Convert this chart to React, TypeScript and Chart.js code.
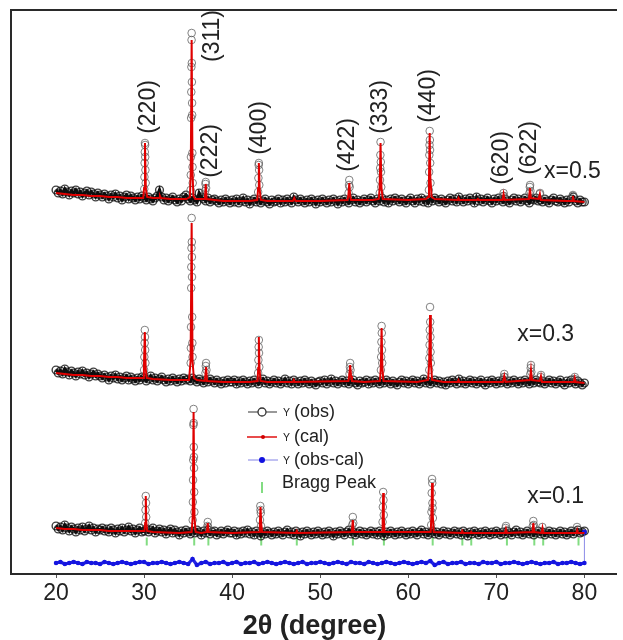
import { useEffect, useRef } from 'react';
import { Chart, registerables } from 'chart.js';

Chart.register(...registerables);

const FONT = "'Liberation Sans', Arial, Helvetica, sans-serif";

// ---------- axis ----------
const X_MIN = 15;
const X_MAX = 83.7;
const Y_MIN = 0;
const Y_MAX = 563;
const X_TICKS = [20, 30, 40, 50, 60, 70, 80];

// ---------- observed background scans (2θ = 20 + i*0.25) ----------
const BG_START = 20;
const BG_STEP = 0.25;

const bgObs05 = [
  383, 380, 382, 379, 384, 381, 378, 382, 380, 383, 379, 381, 377, 380, 382, 378, 381, 379, 376, 380,
  378, 376, 379, 377, 374, 378, 376, 379, 375, 377, 373, 376, 378, 374, 377, 375, 373, 376, 374, 377,
  375, 373, 376, 374, 372, 375, 377, 383, 376, 373, 375, 372, 374, 376, 373, 371, 374, 372, 376, 378,
  374, 372, 375, 373, 371, 380, 376, 374, 372, 375, 371, 373, 374, 372, 370, 373, 371, 374, 372, 370,
  373, 371, 374, 370, 372, 375, 371, 373, 369, 372, 374, 371, 373, 370, 372, 374, 371, 369, 373, 371,
  372, 374, 370, 373, 371, 374, 372, 370, 376, 373, 371, 374, 372, 370, 373, 371, 374, 372, 369, 373,
  371, 374, 372, 370, 373, 371, 374, 372, 369, 373, 371, 374, 372, 370, 373, 375, 371, 373, 370, 372,
  374, 371, 373, 375, 372, 370, 374, 372, 375, 371, 373, 370, 374, 372, 375, 373, 371, 374, 372, 370,
  373, 375, 372, 370, 374, 372, 375, 371, 373, 370, 374, 372, 375, 373, 371, 374, 372, 370, 373, 375,
  372, 374, 371, 376, 373, 371, 374, 372, 375, 373, 370, 376, 372, 374, 371, 373, 375, 372, 370, 374,
  372, 375, 373, 371, 374, 372, 370, 373, 375, 372, 374, 371, 373, 375, 372, 370, 374, 373, 375, 372,
  373, 371, 374, 372, 370, 373, 375, 372, 371, 374, 372, 370, 373, 371, 374, 376, 372, 370, 373, 371,
  371,
];

const bgObs03 = [
  203, 200, 202, 199, 204, 201, 198, 202, 200, 197, 201, 199, 202, 198, 200, 196, 199, 201, 197, 199,
  197, 195, 198, 196, 193, 197, 195, 198, 194, 196, 193, 195, 197, 193, 196, 194, 192, 195, 193, 196,
  195, 192, 194, 197, 193, 195, 192, 194, 196, 193, 191, 194, 192, 195, 193, 191, 194, 192, 195, 193,
  194, 192, 195, 193, 191, 194, 192, 190, 193, 191, 194, 192, 190, 193, 191, 189, 192, 190, 193, 191,
  191, 193, 189, 192, 190, 193, 191, 189, 192, 190, 193, 191, 189, 192, 194, 190, 192, 189, 191, 193,
  190, 192, 189, 191, 194, 190, 192, 189, 193, 191, 189, 192, 190, 193, 191, 189, 192, 190, 188, 191,
  192, 190, 193, 189, 191, 194, 190, 192, 189, 191, 193, 190, 192, 189, 191, 193, 190, 188, 192, 190,
  191, 193, 189, 192, 190, 193, 191, 189, 192, 190, 193, 191, 189, 192, 190, 188, 191, 193, 190, 192,
  189, 191, 193, 190, 192, 189, 191, 194, 190, 192, 189, 191, 193, 190, 192, 189, 191, 188, 192, 190,
  193, 191, 189, 194, 190, 192, 189, 191, 193, 190, 192, 189, 191, 193, 190, 188, 192, 190, 193, 191,
  189, 192, 190, 193, 191, 189, 192, 190, 193, 191, 189, 192, 190, 193, 191, 189, 192, 190, 193, 191,
  190, 192, 189, 191, 193, 190, 192, 189, 191, 193, 190, 188, 192, 190, 193, 191, 189, 192, 190, 188,
  190,
];

const bgObs01 = [
  47, 44, 46, 43, 48, 45, 42, 46, 44, 41, 45, 43, 46, 42, 44, 47, 43, 45, 41, 44,
  43, 45, 42, 44, 41, 45, 43, 40, 44, 42, 45, 41, 43, 46, 42, 44, 40, 43, 45, 41,
  42, 44, 41, 43, 45, 40, 42, 44, 41, 43, 39, 42, 44, 40, 43, 41, 38, 42, 40, 43,
  41, 39, 42, 40, 43, 41, 38, 42, 40, 43, 39, 41, 42, 38, 40, 42, 39, 41, 43, 40,
  40, 42, 38, 41, 39, 42, 40, 43, 39, 41, 38, 42, 40, 37, 41, 39, 42, 40, 38, 41,
  39, 42, 40, 38, 41, 43, 39, 41, 38, 42, 40, 37, 41, 39, 42, 40, 38, 41, 39, 42,
  40, 38, 41, 39, 42, 40, 37, 41, 39, 42, 40, 38, 41, 43, 39, 41, 38, 40, 42, 39,
  41, 38, 40, 42, 39, 41, 38, 42, 40, 37, 41, 39, 42, 40, 38, 41, 39, 42, 40, 38,
  41, 39, 42, 40, 38, 41, 43, 39, 41, 38, 40, 42, 39, 41, 38, 40, 42, 39, 41, 38,
  40, 42, 39, 41, 38, 42, 40, 37, 41, 39, 42, 40, 38, 41, 39, 42, 40, 38, 41, 39,
  42, 40, 38, 41, 39, 42, 40, 38, 41, 43, 39, 41, 38, 40, 42, 39, 41, 38, 40, 42,
  39, 41, 38, 40, 42, 39, 41, 38, 40, 42, 39, 41, 38, 40, 42, 39, 41, 43, 40, 41,
  42,
];

// ---------- observed peak points [2θ, intensity] ----------
const peakObs05: [number, number][] = [
  [30.02, 384], [30.04, 396], [30.06, 410], [30.08, 421], [30.1, 430], [30.12, 428], [30.13, 416], [30.15, 403], [30.18, 390],
  [35.28, 383], [35.3, 398], [35.32, 416], [35.34, 455], [35.36, 481], [35.37, 506], [35.39, 533], [35.4, 540],
  [35.42, 510], [35.43, 491], [35.45, 470], [35.46, 458], [35.48, 420], [35.5, 406], [35.52, 390],
  [36.93, 382], [36.97, 389], [37.0, 391], [37.04, 385],
  [42.95, 381], [42.98, 395], [43.01, 408], [43.03, 410], [43.06, 403], [43.08, 388],
  [53.22, 380], [53.27, 388], [53.3, 393], [53.34, 386],
  [56.76, 380], [56.79, 393], [56.81, 405], [56.83, 418], [56.85, 431], [56.88, 411], [56.9, 401], [56.93, 386],
  [62.34, 383], [62.37, 401], [62.39, 418], [62.41, 428], [62.43, 442], [62.45, 433], [62.47, 423], [62.49, 410], [62.52, 390],
  [70.78, 377], [70.82, 380], [70.86, 377],
  [73.76, 380], [73.8, 386], [73.83, 388], [73.87, 382],
  [74.92, 379], [74.96, 380],
  [78.66, 377], [78.7, 378],
];

const peakObs03: [number, number][] = [
  [30.0, 203], [30.03, 216], [30.06, 230], [30.08, 243], [30.1, 236], [30.12, 223], [30.15, 210],
  [35.29, 210], [35.31, 225], [35.33, 246], [35.35, 285], [35.36, 306], [35.38, 325], [35.4, 355],
  [35.42, 331], [35.43, 316], [35.44, 296], [35.46, 256], [35.48, 230], [35.5, 216],
  [36.97, 200], [37.01, 207], [37.04, 210], [37.08, 203],
  [42.95, 200], [42.98, 213], [43.01, 226], [43.03, 233], [43.05, 220], [43.08, 206],
  [53.33, 199], [53.37, 206], [53.4, 210], [53.44, 203],
  [56.89, 203], [56.92, 216], [56.95, 231], [56.97, 247], [56.99, 240], [57.01, 223], [57.04, 210],
  [62.38, 203], [62.4, 215], [62.42, 228], [62.44, 243], [62.47, 266], [62.49, 251], [62.51, 236], [62.53, 221], [62.56, 210],
  [70.86, 196], [70.9, 199], [70.94, 196],
  [73.86, 199], [73.9, 205], [73.93, 208], [73.97, 201],
  [75.03, 196], [75.07, 198],
  [78.87, 194], [78.91, 196],
];

const peakObs01: [number, number][] = [
  [30.13, 50], [30.16, 63], [30.19, 77], [30.22, 70], [30.24, 56],
  [35.52, 53], [35.54, 71], [35.56, 93], [35.58, 113], [35.6, 148], [35.62, 164],
  [35.63, 150], [35.64, 126], [35.66, 116], [35.67, 105], [35.69, 81], [35.71, 61],
  [37.19, 47], [37.23, 51], [37.27, 46],
  [43.16, 53], [43.2, 67], [43.22, 63], [43.25, 60], [43.28, 47],
  [53.64, 48], [53.7, 56], [53.75, 50],
  [57.08, 51], [57.11, 66], [57.15, 81], [57.18, 73], [57.21, 58],
  [62.6, 48], [62.63, 61], [62.66, 80], [62.7, 94], [62.72, 90], [62.74, 70], [62.76, 65], [62.79, 55],
  [71.05, 45], [71.09, 47],
  [74.14, 47], [74.2, 52], [74.25, 48],
  [75.22, 46],
  [79.16, 46],
];

// ---------- calculated profiles [2θ, intensity] ----------
const cal05: [number, number][] = [
  [20, 380], [21, 379], [22, 378], [23, 378], [24, 377], [25, 377], [26, 376], [27, 376], [28, 375], [29, 375],
  [29.9, 375], [30.0, 385], [30.1, 430], [30.2, 384], [30.35, 376], [31, 375], [31.7, 375], [31.8, 377], [31.9, 375],
  [33, 374], [34, 374], [34.8, 374], [35.2, 376], [35.3, 400], [35.4, 533], [35.5, 400], [35.6, 377], [35.8, 374],
  [36.9, 374], [37.0, 389], [37.1, 374], [38, 373], [39, 372], [42, 372], [42.85, 373], [42.95, 385], [43.03, 410],
  [43.12, 384], [43.25, 373], [44, 372], [46.9, 372], [47.05, 375], [47.2, 372], [50, 372], [53.1, 373], [53.2, 378],
  [53.3, 390], [53.4, 377], [53.5, 373], [56, 373], [56.65, 374], [56.75, 385], [56.85, 430], [56.95, 386], [57.1, 374],
  [60, 373], [62, 374], [62.25, 376], [62.35, 395], [62.43, 440], [62.5, 396], [62.65, 376], [63, 374], [65.6, 373],
  [65.7, 375], [65.8, 373], [67.8, 373], [67.9, 374], [68, 373], [70.7, 373], [70.82, 379], [70.95, 373], [73.7, 374],
  [73.82, 385], [73.92, 375], [74.8, 374], [74.94, 379], [75.05, 373], [78, 372], [78.6, 372], [78.69, 377], [78.8, 372],
  [80, 371],
];

const cal03: [number, number][] = [
  [20, 200], [21, 199], [22, 198], [23, 198], [24, 197], [25, 197], [26, 196], [27, 196], [28, 195], [29, 195],
  [29.9, 195], [29.98, 206], [30.08, 241], [30.18, 205], [30.3, 195], [31, 194], [33, 193], [35.1, 193], [35.28, 212],
  [35.4, 350], [35.5, 212], [35.65, 195], [36, 193], [36.9, 192], [37.04, 206], [37.15, 192], [39, 191], [42, 191],
  [42.88, 192], [42.96, 205], [43.03, 236], [43.1, 205], [43.22, 192], [44, 191], [46.9, 191], [47.0, 193], [47.1, 191],
  [53.2, 192], [53.3, 198], [53.4, 208], [53.5, 197], [53.6, 192], [55, 191], [56.78, 192], [56.88, 205], [56.97, 245],
  [57.06, 205], [57.18, 192], [61, 191], [62.25, 193], [62.37, 210], [62.47, 258], [62.56, 212], [62.7, 193], [64, 191],
  [65.6, 191], [65.7, 193], [65.8, 191], [70.75, 191], [70.9, 197], [71.05, 191], [73.8, 193], [73.93, 203], [74.05, 193],
  [74.9, 192], [75.06, 197], [75.18, 191], [78.8, 191], [78.9, 195], [79.0, 191], [80, 190],
];

const cal01: [number, number][] = [
  [20, 45], [21, 44], [22, 44], [23, 43], [25, 43], [26, 42], [29, 42], [30.05, 42], [30.12, 50], [30.19, 77],
  [30.26, 50], [30.35, 42], [31, 41], [34, 40], [35.4, 41], [35.52, 56], [35.62, 161], [35.72, 56], [35.85, 41],
  [36.5, 40], [37.13, 41], [37.23, 50], [37.33, 41], [40, 40], [43.08, 41], [43.15, 50], [43.22, 66], [43.3, 49],
  [43.4, 41], [47.24, 40], [47.34, 42], [47.44, 40], [53.58, 41], [53.7, 53], [53.8, 41], [57.02, 41], [57.09, 55],
  [57.15, 80], [57.22, 55], [57.3, 41], [62.55, 41], [62.63, 60], [62.7, 90], [62.78, 58], [62.88, 41], [66.03, 40],
  [66.13, 42], [66.23, 40], [67.1, 40], [67.15, 41], [67.25, 40], [70.98, 40], [71.09, 44], [71.2, 40], [74.1, 41],
  [74.2, 50], [74.3, 41], [75.14, 40], [75.24, 45], [75.35, 40], [79.08, 40], [79.18, 43], [79.28, 40], [80, 40],
];

// ---------- difference curve (2θ = 20 + i*0.5) ----------
const DIFF_STEP = 0.5;
const diff01 = [
  10, 11, 9, 10, 11, 10, 9, 11, 10, 10, 9, 11, 10, 9, 10, 11, 10, 9, 10, 11,
  11, 9, 10, 10, 11, 10, 9, 10, 11, 10, 9, 14, 8, 10, 11, 9, 10, 10, 11, 9,
  10, 11, 9, 10, 10, 11, 9, 10, 11, 10, 9, 10, 11, 10, 9, 10, 11, 9, 10, 10,
  11, 10, 9, 10, 11, 10, 9, 11, 10, 10, 9, 11, 10, 9, 10, 11, 10, 9, 10, 11,
  10, 9, 10, 11, 10, 12, 8, 10, 11, 9, 10, 10, 11, 9, 10, 10, 9, 11, 10, 10,
  11, 9, 10, 10, 11, 10, 9, 10, 11, 10, 9, 10, 10, 11, 9, 10, 10, 11, 10, 9,
  10,
];
const diffTail: [number, number][] = [[80, 10], [80, 41]];

// ---------- Bragg positions ----------
const braggPos = [30.3, 35.69, 37.3, 43.3, 47.34, 53.71, 57.23, 62.77, 66.14, 67.15, 71.2, 74.31, 75.32, 79.33];
const BRAGG_LEVEL = 31.5;

// ---------- annotations ----------
const peakLabels = ['(220)', '(311)', '(222)', '(400)', '(422)', '(333)', '(440)', '(620)', '(622)'];
const peakLabelX = [30.52, 37.82, 37.6, 43.11, 53.12, 56.83, 62.34, 70.65, 73.8];
const peakLabelY = [466, 537, 422, 445, 428, 466, 477, 415, 425];
const sampleLabels = ['x=0.5', 'x=0.3', 'x=0.1'];
const sampleLabelX = [78.64, 75.6, 76.73];
const sampleLabelY = [401, 238, 76];

const toPts = (arr: [number, number][]) => arr.map(([x, y]) => ({ x, y }));
const bgPts = (arr: number[], step: number) => arr.map((y, i) => ({ x: BG_START + i * step, y }));

const annotationPlugin = {
  id: 'annotations',
  afterDatasetsDraw(chart: any) {
    const { ctx, scales, chartArea } = chart;
    const xs = scales.x;
    const ys = scales.y;
    ctx.save();
    ctx.fillStyle = '#222';
    ctx.font = `23px ${FONT}`;
    ctx.textAlign = 'center';
    ctx.textBaseline = 'middle';
    peakLabels.forEach((t, i) => {
      ctx.save();
      ctx.translate(xs.getPixelForValue(peakLabelX[i]), ys.getPixelForValue(peakLabelY[i]));
      ctx.rotate(-Math.PI / 2);
      ctx.fillText(t, 0, 0);
      ctx.restore();
    });
    sampleLabels.forEach((t, i) => {
      ctx.fillText(t, xs.getPixelForValue(sampleLabelX[i]), ys.getPixelForValue(sampleLabelY[i]));
    });

    // legend
    const lx = chartArea.left + 236;
    const rows = [chartArea.top + 402, chartArea.top + 427, chartArea.top + 450, chartArea.top + 477];
    const cx = lx + 14;
    const tx = lx + 35;
    ctx.strokeStyle = '#555';
    ctx.lineWidth = 1.2;
    ctx.beginPath(); ctx.moveTo(lx, rows[0]); ctx.lineTo(lx + 29, rows[0]); ctx.stroke();
    ctx.fillStyle = '#fff';
    ctx.strokeStyle = '#333';
    ctx.lineWidth = 1.3;
    ctx.beginPath(); ctx.arc(cx, rows[0], 4, 0, Math.PI * 2); ctx.fill(); ctx.stroke();
    ctx.strokeStyle = '#e01010';
    ctx.lineWidth = 1.5;
    ctx.beginPath(); ctx.moveTo(lx - 1, rows[1]); ctx.lineTo(lx + 29, rows[1]); ctx.stroke();
    ctx.fillStyle = '#d00000';
    ctx.beginPath(); ctx.arc(cx + 1, rows[1], 2, 0, Math.PI * 2); ctx.fill();
    ctx.strokeStyle = 'rgba(90,90,220,0.75)';
    ctx.lineWidth = 1;
    ctx.beginPath(); ctx.moveTo(lx, rows[2]); ctx.lineTo(lx + 30, rows[2]); ctx.stroke();
    ctx.fillStyle = '#1010e0';
    ctx.beginPath(); ctx.arc(cx, rows[2], 3, 0, Math.PI * 2); ctx.fill();
    ctx.strokeStyle = 'rgb(130,220,130)';
    ctx.lineWidth = 2;
    ctx.beginPath(); ctx.moveTo(cx, rows[3] - 5); ctx.lineTo(cx, rows[3] + 6); ctx.stroke();

    const entries = ['(obs)', '(cal)', '(obs-cal)'];
    ctx.fillStyle = '#222';
    ctx.textAlign = 'left';
    ctx.textBaseline = 'alphabetic';
    entries.forEach((e, i) => {
      ctx.font = `10.5px ${FONT}`;
      ctx.fillText('Y', tx, rows[i] + 4);
      ctx.font = `18px ${FONT}`;
      ctx.fillText(e, tx + 11, rows[i] + 5);
    });
    ctx.font = `18px ${FONT}`;
    ctx.fillText('Bragg Peak', tx - 1, rows[3] + 1);
    ctx.restore();
  },
  afterDraw(chart: any) {
    const { ctx, chartArea } = chart;
    ctx.save();
    ctx.strokeStyle = '#2a2a2a';
    ctx.lineWidth = 2;
    ctx.beginPath();
    ctx.moveTo(chartArea.left - 1, chartArea.bottom + 1);
    ctx.lineTo(chartArea.left - 1, chartArea.top);
    ctx.lineTo(chartArea.right, chartArea.top);
    ctx.stroke();
    ctx.beginPath();
    ctx.moveTo(chartArea.left - 2, chartArea.bottom + 1);
    ctx.lineTo(chartArea.right, chartArea.bottom + 1);
    ctx.stroke();
    ctx.restore();
  },
};

export default function App() {
  const ref = useRef<HTMLCanvasElement>(null);
  useEffect(() => {
    document.body.style.margin = '0';
    const canvas = ref.current;
    if (!canvas) return;
    const bgStyle = {
      showLine: true,
      borderColor: 'rgba(0,0,0,0.95)',
      borderWidth: 3.2,
      pointRadius: 3.9,
      pointBorderWidth: 1.4,
      pointBorderColor: 'rgba(15,15,15,0.8)',
      pointBackgroundColor: 'rgba(255,255,255,0)',
      order: 3,
    };
    const peakStyle = {
      showLine: false,
      pointRadius: 3.8,
      pointBorderWidth: 1,
      pointBorderColor: 'rgba(90,90,90,0.75)',
      pointBackgroundColor: 'rgba(255,255,255,0)',
      order: 2,
    };
    const calStyle = {
      showLine: true,
      borderColor: '#e00000',
      borderWidth: 2,
      pointRadius: 0,
      order: 0,
    };
    const chart = new Chart(canvas, {
      type: 'scatter',
      data: {
        datasets: [
          { label: 'cal 0.5', data: toPts(cal05), ...calStyle },
          { label: 'cal 0.3', data: toPts(cal03), ...calStyle },
          { label: 'cal 0.1', data: toPts(cal01), ...calStyle },
          { label: 'obs 0.5', data: bgPts(bgObs05, BG_STEP), ...bgStyle },
          { label: 'obs 0.3', data: bgPts(bgObs03, BG_STEP), ...bgStyle },
          { label: 'obs 0.1', data: bgPts(bgObs01, BG_STEP), ...bgStyle },
          { label: 'obs peaks 0.5', data: toPts(peakObs05), ...peakStyle },
          { label: 'obs peaks 0.3', data: toPts(peakObs03), ...peakStyle },
          { label: 'obs peaks 0.1', data: toPts(peakObs01), ...peakStyle },
          {
            label: 'obs-cal',
            data: bgPts(diff01, DIFF_STEP),
            showLine: true,
            borderColor: 'rgba(25,25,225,0.95)',
            borderWidth: 3.2,
            pointRadius: 2.3,
            pointBorderWidth: 0,
            pointBackgroundColor: '#1515e0',
            order: 1,
          },
          {
            label: 'obs-cal tail',
            data: toPts(diffTail),
            showLine: true,
            borderColor: 'rgba(90,90,220,0.7)',
            borderWidth: 1,
            pointRadius: [0, 2.5],
            pointBorderWidth: 0,
            pointBackgroundColor: '#1515e0',
            order: 1,
          },
          {
            label: 'Bragg',
            data: braggPos.map((x) => ({ x, y: BRAGG_LEVEL })),
            showLine: false,
            pointStyle: 'line',
            rotation: 90,
            pointRadius: 4,
            pointBorderWidth: 2,
            pointBorderColor: 'rgb(130,220,130)',
            order: 4,
          },
        ],
      },
      options: {
        animation: false,
        responsive: false,
        devicePixelRatio: 1,
        layout: { padding: { left: 12, top: 10, right: 0, bottom: 0 } },
        plugins: { legend: { display: false }, tooltip: { enabled: false } },
        scales: {
          x: {
            type: 'linear',
            min: X_MIN,
            max: X_MAX,
            afterBuildTicks: (axis: any) => {
              axis.ticks = X_TICKS.map((v) => ({ value: v }));
            },
            afterFit: (axis: any) => {
              axis.height = 67;
            },
            grid: { display: true, drawOnChartArea: false, drawTicks: true, tickLength: 5, color: '#555', lineWidth: 1 },
            border: { display: false },
            ticks: { font: { size: 23, family: FONT }, color: '#222', padding: 2, maxRotation: 0, autoSkip: false },
            title: {
              display: true,
              text: '2θ (degree)',
              font: { size: 27, weight: 'bold', family: FONT, lineHeight: 1 },
              color: '#222',
              padding: 0,
            },
          },
          y: { display: false, min: Y_MIN, max: Y_MAX },
        },
      },
      plugins: [annotationPlugin],
    } as any);
    return () => chart.destroy();
  }, []);
  return (
    <div style={{ width: 623, height: 640 }}>
      <canvas ref={ref} width={623} height={640} style={{ display: 'block' }} />
    </div>
  );
}
